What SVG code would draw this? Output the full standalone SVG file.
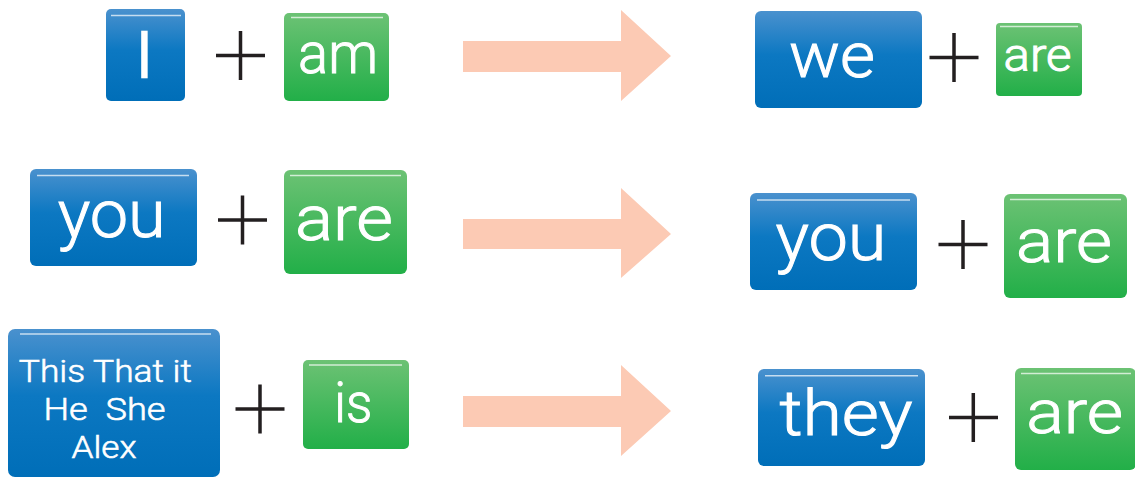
<svg xmlns="http://www.w3.org/2000/svg" width="1135" height="478" viewBox="0 0 1135 478">
<defs>
<linearGradient id="gb" x1="0" y1="0" x2="0" y2="1">
<stop offset="0" stop-color="#4A91CE"/>
<stop offset="0.45" stop-color="#0C78C2"/>
<stop offset="1" stop-color="#006EB8"/>
</linearGradient>
<linearGradient id="gg" x1="0" y1="0" x2="0" y2="1">
<stop offset="0" stop-color="#6CC274"/>
<stop offset="1" stop-color="#22AF48"/>
</linearGradient>
</defs>
<style>
.b{fill:url(#gb)}
.g{fill:url(#gg)}
.hl{stroke:#FFFFFF;stroke-opacity:0.7;stroke-width:1.5}
.t{fill:#FFFFFF;stroke:#FFFFFF;stroke-width:1;font-family:Roboto,"Liberation Sans",Arial,sans-serif;font-weight:300;text-anchor:middle}
.plus{stroke:#231F20;stroke-width:3.5;fill:none}
.arr{fill:#FCCAB4}
</style>
<rect width="1135" height="478" fill="#FFFFFF"/>

<g id="node-I"><rect class="b" x="106" y="9" width="79" height="92" rx="5"/><line class="hl" x1="111" y1="15.5" x2="181" y2="15.5"/><text class="t" x="144.5" y="76.7" font-size="63" style="stroke-width:2.6">I</text></g>
<g id="node-am"><rect class="g" x="284" y="13" width="105" height="88" rx="5"/><line class="hl" x1="291" y1="17.5" x2="383" y2="17.5"/><text class="t" x="338" y="72.7" font-size="57" textLength="80" lengthAdjust="spacingAndGlyphs">am</text></g>
<g id="node-we"><rect class="b" x="755" y="11" width="167" height="97" rx="6"/><text class="t" x="832" y="76.7" font-size="63" textLength="86" lengthAdjust="spacingAndGlyphs">we</text></g>
<g id="node-are1"><rect class="g" x="996" y="23" width="86" height="73" rx="4"/><line class="hl" x1="1000" y1="26.5" x2="1078" y2="26.5"/><text class="t" x="1037.5" y="71" font-size="46" textLength="68" lengthAdjust="spacingAndGlyphs">are</text></g>

<g id="node-you1"><rect class="b" x="30" y="169" width="167" height="97" rx="6"/><line class="hl" x1="37" y1="175.5" x2="189" y2="175.5"/><text class="t" x="111.7" y="236.5" font-size="67" textLength="108" lengthAdjust="spacingAndGlyphs">you</text></g>
<g id="node-are2"><rect class="g" x="284" y="170" width="123" height="104" rx="6"/><line class="hl" x1="290" y1="175.5" x2="401" y2="175.5"/><text class="t" x="344" y="240" font-size="63" textLength="98" lengthAdjust="spacingAndGlyphs">are</text></g>
<g id="node-you2"><rect class="b" x="750" y="193" width="167" height="97" rx="6"/><line class="hl" x1="757" y1="200" x2="910" y2="200"/><text class="t" x="831" y="260" font-size="67" textLength="111" lengthAdjust="spacingAndGlyphs">you</text></g>
<g id="node-are3"><rect class="g" x="1004" y="194" width="123" height="104" rx="6"/><line class="hl" x1="1010" y1="199.5" x2="1121" y2="199.5"/><text class="t" x="1064" y="261.7" font-size="62" textLength="96" lengthAdjust="spacingAndGlyphs">are</text></g>

<g id="node-this"><rect class="b" x="8" y="329" width="212" height="148" rx="7"/><line class="hl" x1="20" y1="334" x2="211" y2="334"/>
<text class="t" x="105.3" y="382.3" font-size="32" textLength="173" lengthAdjust="spacingAndGlyphs" style="stroke-width:0.6">This That it</text>
<text class="t" x="104.5" y="420" font-size="32" textLength="122" lengthAdjust="spacingAndGlyphs" xml:space="preserve" style="white-space:pre;stroke-width:0.6">He  She</text>
<text class="t" x="104" y="457.7" font-size="32" textLength="65" lengthAdjust="spacingAndGlyphs" style="stroke-width:0.6">Alex</text></g>
<g id="node-is"><rect class="g" x="303" y="360" width="106" height="89" rx="5"/><line class="hl" x1="309" y1="365" x2="402" y2="365"/><text class="t" x="353.3" y="422.3" font-size="56" textLength="38" lengthAdjust="spacingAndGlyphs">is</text></g>
<g id="node-they"><rect class="b" x="758" y="369" width="167" height="97" rx="6"/><line class="hl" x1="765" y1="375.7" x2="918" y2="375.7"/><text class="t" x="846" y="435" font-size="63" textLength="133" lengthAdjust="spacingAndGlyphs">they</text></g>
<g id="node-are4"><rect class="g" x="1015" y="368" width="121" height="102" rx="6"/><line class="hl" x1="1021" y1="373.5" x2="1131" y2="373.5"/><text class="t" x="1074.7" y="433.3" font-size="61" textLength="97" lengthAdjust="spacingAndGlyphs">are</text></g>

<g id="operators">
<path class="plus" d="M216 55.5H265M240.5 31V80"/>
<path class="plus" d="M218 220H267M242.5 195.5V244.5"/>
<path class="plus" d="M235.5 409H284.5M260 384.5V433.5"/>
<path class="plus" d="M929.5 57.5H978.5M954 33V82"/>
<path class="plus" d="M938.5 244.5H987.5M963 220V269"/>
<path class="plus" d="M949 417.5H998M973.3 393V442"/>
</g>

<g id="connectors">
<polygon class="arr" points="463,41 621,41 621,10 671,56 621,101 621,72 463,72"/>
<polygon class="arr" points="463,219 621,219 621,188 671,234 621,278 621,249 463,249"/>
<polygon class="arr" points="463,396 621,396 621,365 671,411 621,456 621,427 463,427"/>
</g>
</svg>
